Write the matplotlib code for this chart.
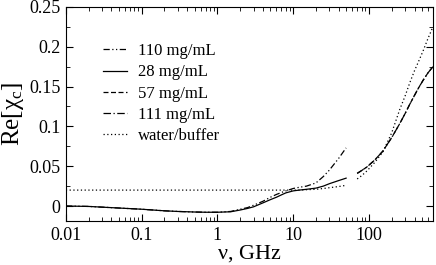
import matplotlib
matplotlib.use("Agg")
import matplotlib.pyplot as plt
import matplotlib.ticker as mtick

plt.rcParams['font.family'] = ['Liberation Serif', 'DejaVu Serif']
plt.rcParams['mathtext.fontset'] = 'stix'

# low-frequency segment (GHz)
f_low = [0.01, 0.02, 0.05, 0.1, 0.2, 0.3, 0.5, 0.7, 1.0, 1.5, 2.0, 2.5, 3.0, 4.0, 5.0,
         6.0, 7.0, 8.0, 10.0, 12.0, 15.0, 20.0, 25.0, 30.0, 40.0, 50.0]
re_28 = [0.0, -0.0005, -0.0025, -0.004, -0.006, -0.0068, -0.0075, -0.0078, -0.0078, -0.0072, -0.005,
         -0.003, -0.001, 0.004, 0.008, 0.011, 0.014, 0.0165, 0.019, 0.020, 0.021, 0.0225, 0.025,
         0.028, 0.032, 0.035]
re_110 = [0.0, -0.0005, -0.0025, -0.004, -0.006, -0.0068, -0.0075, -0.0078, -0.0078, -0.0068, -0.004,
          -0.002, 0.001, 0.006, 0.011, 0.0145, 0.017, 0.019, 0.022, 0.0235, 0.025, 0.029, 0.037,
          0.045, 0.06, 0.073]
re_water_low = [0.02, 0.02, 0.02, 0.02, 0.02, 0.02, 0.02, 0.02, 0.02, 0.02, 0.02, 0.02, 0.02, 0.02,
                0.02, 0.02, 0.02, 0.02, 0.02, 0.02, 0.0205, 0.021, 0.022, 0.023, 0.0245, 0.026]

# high-frequency segment (GHz)
f_high = [70, 80, 94, 120, 153, 200, 257, 300, 347, 400, 450, 520, 600, 700]
re_57 = [0.041, 0.0445, 0.049, 0.058, 0.069, 0.086, 0.104, 0.116, 0.128, 0.139, 0.148, 0.158, 0.167, 0.175]
re_111 = [0.041, 0.0445, 0.049, 0.058, 0.069, 0.086, 0.104, 0.116, 0.128, 0.139, 0.148, 0.158, 0.167, 0.175]
re_water_high = [0.034, 0.038, 0.044, 0.055, 0.068, 0.092, 0.122, 0.138, 0.155, 0.17, 0.181, 0.195, 0.21, 0.225]

fig = plt.figure(figsize=(4.36, 2.65), dpi=100)
ax = fig.add_axes([0.151, 0.166, 0.842, 0.808])

lw = 0.9
ax.plot(f_low, re_110, color='black', lw=lw, linestyle=(0, (5, 2, 1, 2, 1, 2)), label='110 mg/mL')
ax.plot(f_low, re_28, color='black', lw=lw, linestyle='-', label='28 mg/mL')
ax.plot(f_high, re_57, color='black', lw=lw, linestyle=(0, (4, 2)), label='57 mg/mL')
ax.plot(f_high, re_111, color='black', lw=lw, linestyle=(0, (6, 2, 1, 2)), label='111 mg/mL')
ax.plot(f_low, re_water_low, color='black', lw=lw, linestyle=(0, (1, 2)), label='water/buffer')
ax.plot(f_high, re_water_high, color='black', lw=lw, linestyle=(0, (1, 2)))

ax.set_xscale('log')
ax.set_xlim(0.01, 700)
ax.set_ylim(-0.0188, 0.25)
ax.xaxis.set_major_formatter(mtick.FuncFormatter(lambda v, p: '%g' % v))
ax.yaxis.set_major_locator(mtick.MultipleLocator(0.05))
ax.yaxis.set_minor_locator(mtick.MultipleLocator(0.025))
ax.yaxis.set_major_formatter(mtick.FuncFormatter(lambda v, p: '%g' % round(v, 3)))
ax.tick_params(which='both', direction='in', top=True, right=True, labelsize=13)
ax.tick_params(which='major', length=5, width=0.8, pad=4)
ax.tick_params(which='minor', length=3, width=0.6)

ax.set_xlabel(r'$\mathregular{\nu}$, GHz', fontsize=16, labelpad=0)
ax.set_ylabel(r'Re[$\mathregular{\chi_c}$]', fontsize=18, labelpad=2)

ax.legend(loc='upper left', bbox_to_anchor=(0.1, 0.83), frameon=False, fontsize=12,
          handlelength=1.45, handletextpad=0.65, labelspacing=0.31, borderpad=0, borderaxespad=0)

fig.savefig('out.png', dpi=100)
